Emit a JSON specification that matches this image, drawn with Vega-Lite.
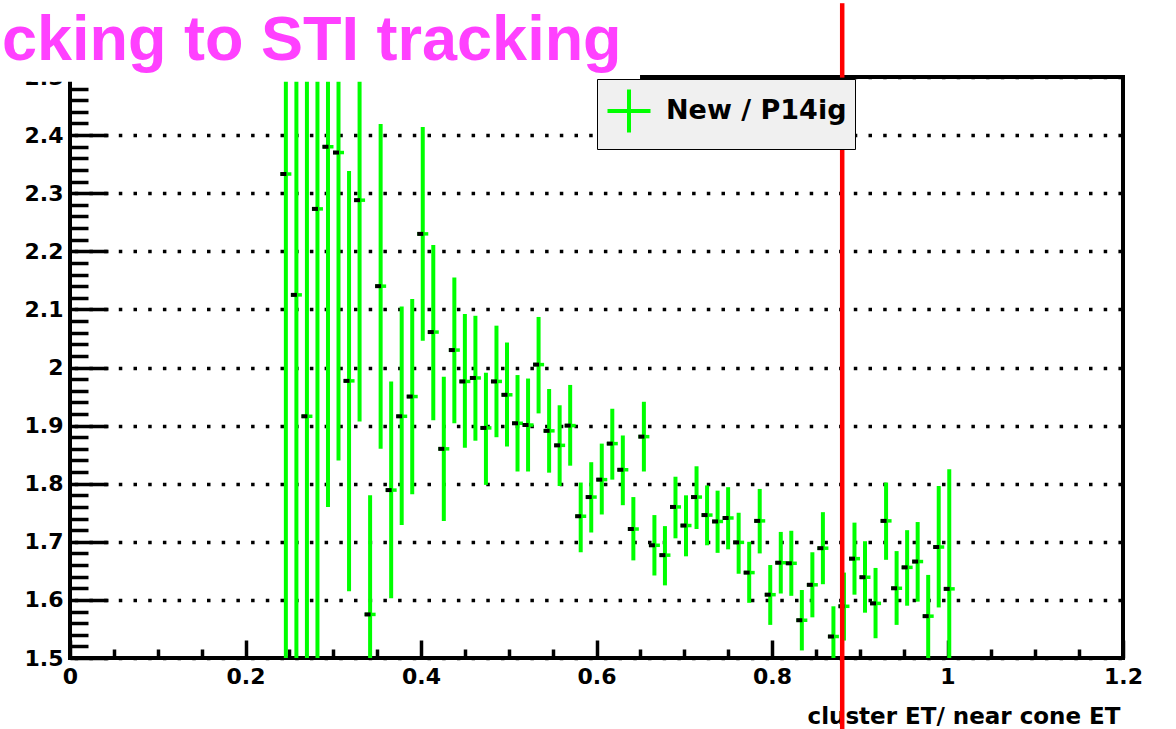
{
  "$schema": "https://vega.github.io/schema/vega-lite/v6.json",
  "width": 1053,
  "height": 581,
  "autosize": {"type": "none"},
  "padding": {"left": 70, "top": 77, "right": 53, "bottom": 71},
  "background": "white",
  "config": {
    "view": {"stroke": "black", "strokeWidth": 4},
    "axis": {"domain": false}
  },
  "datasets": {
    "points": [
      {"x": 0.246, "y": 2.333, "lo": 1.333, "hi": 3.333, "series": "New / P14ig"},
      {"x": 0.258, "y": 2.125, "lo": 1.125, "hi": 3.125, "series": "New / P14ig"},
      {"x": 0.270, "y": 1.916, "lo": 0.916, "hi": 2.916, "series": "New / P14ig"},
      {"x": 0.282, "y": 2.273, "lo": 1.273, "hi": 3.273, "series": "New / P14ig"},
      {"x": 0.294, "y": 2.38, "lo": 1.76, "hi": 3.0, "series": "New / P14ig"},
      {"x": 0.306, "y": 2.37, "lo": 1.84, "hi": 2.9, "series": "New / P14ig"},
      {"x": 0.318, "y": 1.977, "lo": 1.615, "hi": 2.338, "series": "New / P14ig"},
      {"x": 0.330, "y": 2.288, "lo": 1.907, "hi": 2.67, "series": "New / P14ig"},
      {"x": 0.342, "y": 1.575, "lo": 1.37, "hi": 1.78, "series": "New / P14ig"},
      {"x": 0.354, "y": 2.14, "lo": 1.86, "hi": 2.419, "series": "New / P14ig"},
      {"x": 0.366, "y": 1.789, "lo": 1.603, "hi": 1.976, "series": "New / P14ig"},
      {"x": 0.378, "y": 1.916, "lo": 1.729, "hi": 2.105, "series": "New / P14ig"},
      {"x": 0.390, "y": 1.95, "lo": 1.782, "hi": 2.118, "series": "New / P14ig"},
      {"x": 0.402, "y": 2.23, "lo": 2.046, "hi": 2.414, "series": "New / P14ig"},
      {"x": 0.414, "y": 2.061, "lo": 1.909, "hi": 2.211, "series": "New / P14ig"},
      {"x": 0.426, "y": 1.86, "lo": 1.736, "hi": 1.984, "series": "New / P14ig"},
      {"x": 0.438, "y": 2.03, "lo": 1.904, "hi": 2.155, "series": "New / P14ig"},
      {"x": 0.450, "y": 1.976, "lo": 1.862, "hi": 2.092, "series": "New / P14ig"},
      {"x": 0.462, "y": 1.982, "lo": 1.874, "hi": 2.089, "series": "New / P14ig"},
      {"x": 0.474, "y": 1.896, "lo": 1.798, "hi": 1.991, "series": "New / P14ig"},
      {"x": 0.486, "y": 1.976, "lo": 1.88, "hi": 2.072, "series": "New / P14ig"},
      {"x": 0.498, "y": 1.953, "lo": 1.864, "hi": 2.043, "series": "New / P14ig"},
      {"x": 0.510, "y": 1.904, "lo": 1.821, "hi": 1.987, "series": "New / P14ig"},
      {"x": 0.522, "y": 1.901, "lo": 1.821, "hi": 1.981, "series": "New / P14ig"},
      {"x": 0.534, "y": 2.005, "lo": 1.921, "hi": 2.087, "series": "New / P14ig"},
      {"x": 0.546, "y": 1.891, "lo": 1.819, "hi": 1.963, "series": "New / P14ig"},
      {"x": 0.558, "y": 1.866, "lo": 1.796, "hi": 1.935, "series": "New / P14ig"},
      {"x": 0.570, "y": 1.9, "lo": 1.831, "hi": 1.97, "series": "New / P14ig"},
      {"x": 0.582, "y": 1.744, "lo": 1.682, "hi": 1.802, "series": "New / P14ig"},
      {"x": 0.594, "y": 1.777, "lo": 1.716, "hi": 1.837, "series": "New / P14ig"},
      {"x": 0.606, "y": 1.807, "lo": 1.747, "hi": 1.869, "series": "New / P14ig"},
      {"x": 0.618, "y": 1.869, "lo": 1.807, "hi": 1.929, "series": "New / P14ig"},
      {"x": 0.630, "y": 1.824, "lo": 1.763, "hi": 1.883, "series": "New / P14ig"},
      {"x": 0.642, "y": 1.722, "lo": 1.668, "hi": 1.777, "series": "New / P14ig"},
      {"x": 0.654, "y": 1.881, "lo": 1.821, "hi": 1.941, "series": "New / P14ig"},
      {"x": 0.666, "y": 1.694, "lo": 1.642, "hi": 1.746, "series": "New / P14ig"},
      {"x": 0.678, "y": 1.677, "lo": 1.625, "hi": 1.727, "series": "New / P14ig"},
      {"x": 0.690, "y": 1.76, "lo": 1.706, "hi": 1.812, "series": "New / P14ig"},
      {"x": 0.702, "y": 1.728, "lo": 1.675, "hi": 1.78, "series": "New / P14ig"},
      {"x": 0.714, "y": 1.777, "lo": 1.722, "hi": 1.83, "series": "New / P14ig"},
      {"x": 0.726, "y": 1.746, "lo": 1.694, "hi": 1.797, "series": "New / P14ig"},
      {"x": 0.738, "y": 1.735, "lo": 1.681, "hi": 1.788, "series": "New / P14ig"},
      {"x": 0.750, "y": 1.741, "lo": 1.687, "hi": 1.794, "series": "New / P14ig"},
      {"x": 0.762, "y": 1.699, "lo": 1.645, "hi": 1.75, "series": "New / P14ig"},
      {"x": 0.774, "y": 1.647, "lo": 1.595, "hi": 1.7, "series": "New / P14ig"},
      {"x": 0.786, "y": 1.736, "lo": 1.68, "hi": 1.791, "series": "New / P14ig"},
      {"x": 0.798, "y": 1.609, "lo": 1.557, "hi": 1.66, "series": "New / P14ig"},
      {"x": 0.810, "y": 1.664, "lo": 1.611, "hi": 1.717, "series": "New / P14ig"},
      {"x": 0.822, "y": 1.663, "lo": 1.607, "hi": 1.719, "series": "New / P14ig"},
      {"x": 0.834, "y": 1.565, "lo": 1.513, "hi": 1.617, "series": "New / P14ig"},
      {"x": 0.846, "y": 1.626, "lo": 1.57, "hi": 1.682, "series": "New / P14ig"},
      {"x": 0.858, "y": 1.689, "lo": 1.627, "hi": 1.751, "series": "New / P14ig"},
      {"x": 0.870, "y": 1.537, "lo": 1.485, "hi": 1.589, "series": "New / P14ig"},
      {"x": 0.882, "y": 1.589, "lo": 1.53, "hi": 1.647, "series": "New / P14ig"},
      {"x": 0.894, "y": 1.671, "lo": 1.609, "hi": 1.733, "series": "New / P14ig"},
      {"x": 0.906, "y": 1.639, "lo": 1.578, "hi": 1.701, "series": "New / P14ig"},
      {"x": 0.918, "y": 1.594, "lo": 1.534, "hi": 1.655, "series": "New / P14ig"},
      {"x": 0.930, "y": 1.736, "lo": 1.669, "hi": 1.802, "series": "New / P14ig"},
      {"x": 0.942, "y": 1.62, "lo": 1.557, "hi": 1.684, "series": "New / P14ig"},
      {"x": 0.954, "y": 1.656, "lo": 1.59, "hi": 1.72, "series": "New / P14ig"},
      {"x": 0.966, "y": 1.666, "lo": 1.597, "hi": 1.734, "series": "New / P14ig"},
      {"x": 0.978, "y": 1.572, "lo": 1.5, "hi": 1.643, "series": "New / P14ig"},
      {"x": 0.990, "y": 1.691, "lo": 1.587, "hi": 1.796, "series": "New / P14ig"},
      {"x": 1.002, "y": 1.619, "lo": 1.413, "hi": 1.825, "series": "New / P14ig"}
    ],
    "cut": [{"cut": 0.88}],
    "heading": [{"t": "cking to STI tracking"}]
  },
  "resolve": {"axis": {"x": "independent", "y": "independent"}},
  "layer": [
    {
      "data": {"name": "points"},
      "mark": {"type": "rule", "strokeWidth": 4, "clip": true},
      "encoding": {
        "x": {
          "field": "x", "type": "quantitative",
          "scale": {"domain": [0, 1.2], "nice": false, "zero": false},
          "axis": {
            "orient": "bottom",
            "values": [0, 0.2, 0.4, 0.6, 0.8, 1, 1.2],
            "format": "~g",
            "grid": false,
            "tickSize": -18, "tickWidth": 3.5, "tickColor": "black",
            "labelFont": "DejaVu Sans", "labelFontWeight": "bold", "labelFontSize": 22, "labelColor": "black",
            "labelPadding": 26, "labelFlush": false, "labelOverlap": false, "labelBound": false,
            "title": "cluster ET/ near cone ET",
            "titleFont": "DejaVu Sans", "titleFontWeight": "bold", "titleFontSize": 23, "titleColor": "black",
            "titleX": 1050, "titleY": 65, "titleAlign": "right", "titleBaseline": "alphabetic", "titleAngle": 0
          }
        },
        "y": {
          "field": "lo", "type": "quantitative",
          "scale": {"domain": [1.5, 2.5], "nice": false, "zero": false},
          "axis": {
            "orient": "left",
            "values": [1.5, 1.6, 1.7, 1.8, 1.9, 2.0, 2.1, 2.2, 2.3, 2.4, 2.5],
            "format": "~g",
            "grid": true, "gridColor": "black", "gridWidth": 3.5, "gridDash": [3.5, 11.2], "gridDashOffset": 10.5, "gridOpacity": 1,
            "tickSize": -38, "tickWidth": 3.5, "tickColor": "black",
            "labelFont": "DejaVu Sans", "labelFontWeight": "bold", "labelFontSize": 22, "labelColor": "black",
            "labelPadding": 45, "labelFlush": false, "labelOverlap": false, "labelBound": false,
            "title": null
          }
        },
        "y2": {"field": "hi"},
        "color": {
          "field": "series", "type": "nominal",
          "scale": {"range": ["#00ff00"]},
          "legend": {
            "orient": "none", "legendX": 527, "legendY": 2,
            "title": null,
            "symbolType": "M-1,0H1M0,-1V1",
            "symbolSize": 1850,
            "symbolStrokeWidth": 4,
            "symbolFillColor": "transparent",
            "labelFont": "DejaVu Sans", "labelFontWeight": "bold", "labelFontSize": 27, "labelColor": "black",
            "labelLimit": 600,
            "labelOffset": 13,
            "padding": 8,
            "fillColor": "#f0f0f0",
            "strokeColor": "black"
          }
        }
      }
    },
    {
      "data": {"name": "points"},
      "mark": {"type": "tick", "orient": "horizontal", "size": 11, "thickness": 3.5, "color": "#00ff00", "opacity": 1, "clip": true},
      "encoding": {
        "x": {
          "field": "x", "type": "quantitative",
          "scale": {"domain": [0, 1.2], "nice": false, "zero": false},
          "axis": {
            "orient": "bottom",
            "values": [0.05, 0.1, 0.15, 0.25, 0.3, 0.35, 0.45, 0.5, 0.55, 0.65, 0.7, 0.75, 0.85, 0.9, 0.95, 1.05, 1.1, 1.15],
            "grid": false, "labels": false, "title": null,
            "tickSize": -9, "tickWidth": 3.5, "tickColor": "black"
          }
        },
        "y": {"field": "y", "type": "quantitative", "scale": {"domain": [1.5, 2.5], "nice": false, "zero": false}, "axis": null}
      }
    },
    {
      "data": {"name": "points"},
      "mark": {"type": "tick", "orient": "horizontal", "size": 6, "thickness": 4, "color": "black", "opacity": 1, "xOffset": -2.5, "clip": true},
      "encoding": {
        "x": {"field": "x", "type": "quantitative", "scale": {"domain": [0, 1.2], "nice": false, "zero": false}, "axis": null},
        "y": {
          "field": "y", "type": "quantitative",
          "scale": {"domain": [1.5, 2.5], "nice": false, "zero": false},
          "axis": {
            "orient": "left",
            "values": [1.52, 1.54, 1.56, 1.58, 1.62, 1.64, 1.66, 1.68, 1.72, 1.74, 1.76, 1.78, 1.82, 1.84, 1.86, 1.88, 1.92, 1.94, 1.96, 1.98, 2.02, 2.04, 2.06, 2.08, 2.12, 2.14, 2.16, 2.18, 2.22, 2.24, 2.26, 2.28, 2.32, 2.34, 2.36, 2.38, 2.42, 2.44, 2.46, 2.48],
            "grid": false, "labels": false, "title": null,
            "tickSize": -18, "tickWidth": 3.5, "tickColor": "black"
          }
        }
      }
    },
    {
      "data": {"name": "cut"},
      "mark": {"type": "rule", "color": "#ff0000", "strokeWidth": 4.5, "clip": false},
      "encoding": {
        "x": {"field": "cut", "type": "quantitative", "scale": {"domain": [0, 1.2], "nice": false, "zero": false}, "axis": null},
        "y": {"datum": 2.627, "type": "quantitative", "scale": {"domain": [1.5, 2.5], "nice": false, "zero": false}, "axis": null},
        "y2": {"datum": 2.499}
      }
    },
    {
      "data": {"name": "cut"},
      "mark": {"type": "rule", "color": "#ff0000", "strokeWidth": 4.5, "clip": false},
      "encoding": {
        "x": {"field": "cut", "type": "quantitative", "scale": {"domain": [0, 1.2], "nice": false, "zero": false}, "axis": null},
        "y": {"datum": 2.376, "type": "quantitative", "scale": {"domain": [1.5, 2.5], "nice": false, "zero": false}, "axis": null},
        "y2": {"datum": 1.377}
      }
    },
    {
      "data": {"name": "heading"},
      "mark": {"type": "rect", "color": "white", "opacity": 1, "clip": false},
      "encoding": {
        "x": {"datum": -0.2, "type": "quantitative", "scale": {"domain": [0, 1.2], "nice": false, "zero": false}, "axis": null},
        "x2": {"datum": 0.6496},
        "y": {"datum": 2.4917, "type": "quantitative", "scale": {"domain": [1.5, 2.5], "nice": false, "zero": false}, "axis": null},
        "y2": {"datum": 2.75}
      }
    },
    {
      "data": {"name": "heading"},
      "mark": {"type": "text", "font": "Liberation Sans", "fontWeight": "bold", "fontSize": 63, "color": "#ff40ff", "align": "left", "baseline": "alphabetic", "clip": false},
      "encoding": {
        "x": {"datum": -0.0775, "type": "quantitative", "scale": {"domain": [0, 1.2], "nice": false, "zero": false}, "axis": null},
        "y": {"datum": 2.529, "type": "quantitative", "scale": {"domain": [1.5, 2.5], "nice": false, "zero": false}, "axis": null},
        "text": {"field": "t", "type": "nominal"}
      }
    }
  ]
}
